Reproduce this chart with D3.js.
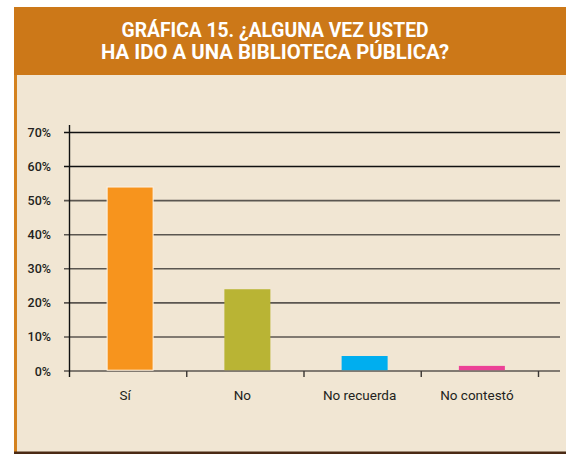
<!DOCTYPE html>
<html>
<head>
<meta charset="utf-8">
<script src="https://cdn.jsdelivr.net/npm/d3@7/dist/d3.min.js"></script>
<style>
  html, body { margin: 0; padding: 0; background: #ffffff; }
  svg { display: block; }
</style>
</head>
<body>
<div id="chart"></div>
<script>
// chart values
var categories = ["Sí", "No", "No recuerda", "No contestó"];
var values = [54, 24, 4.4, 1.5];
var barColours = ["#f7941d", "#b9b434", "#00aeef", "#ec4196"];
var yTicks = [0, 10, 20, 30, 40, 50, 60, 70];
var titleLines = ["GRÁFICA 15. ¿ALGUNA VEZ USTED", "HA IDO A UNA BIBLIOTECA PÚBLICA?"];
var titleWidths = [307, 348];

var svgWidth = 566, svgHeight = 454;
var margin = {top: 132.5, right: 3, bottom: 83, left: 69.5};
var width = svgWidth - margin.left - margin.right;
var height = svgHeight - margin.top - margin.bottom;

var svg = d3.select("#chart").append("svg")
    .attr("width", svgWidth)
    .attr("height", svgHeight);

// panel background + borders
svg.append("rect")
    .attr("x", 14).attr("y", 75)
    .attr("width", svgWidth - 14).attr("height", 377)
    .attr("fill", "#f1e6d3");
svg.append("rect")
    .attr("x", 14).attr("y", 75)
    .attr("width", 3).attr("height", 377)
    .attr("fill", "#d4821f");
svg.append("rect")
    .attr("x", 14).attr("y", 451.5)
    .attr("width", svgWidth - 14).attr("height", 2.5)
    .attr("fill", "#4a2a14");

// header band
svg.append("rect")
    .attr("x", 14).attr("y", 7)
    .attr("width", svgWidth - 14).attr("height", 68)
    .attr("fill", "#cc7818");

// title lines squeezed to the measured widths for a condensed look
svg.selectAll(".title")
    .data(titleLines)
    .enter().append("text")
    .attr("class", "title")
    .attr("x", (d, i) => 275 - titleWidths[i] / 2)
    .attr("y", (d, i) => 36.8 + i * 22.6)
    .attr("textLength", (d, i) => titleWidths[i])
    .attr("lengthAdjust", "spacingAndGlyphs")
    .attr("fill", "#ffffff")
    .style("font-family", "Roboto, 'Liberation Sans', sans-serif")
    .style("font-weight", "bold")
    .style("font-size", "20.5px")
    .text(d => d);

var plotArea = svg.append("g")
    .attr("transform", "translate(" + margin.left + "," + margin.top + ")")
    .attr("class", "plotArea");

var xscale = d3.scaleBand()
    .domain(categories)
    .range([0, width - 24.5]);

var yscale = d3.scaleLinear()
    .domain([0, 70])
    .range([height, 0]);

// gridlines
plotArea.selectAll(".grid")
    .data(yTicks)
    .enter().append("line")
    .attr("class", "grid")
    .attr("x1", -5.5)
    .attr("x2", width - 3)
    .attr("y1", d => yscale(d))
    .attr("y2", d => yscale(d))
    .style("stroke", d => d >= 60 ? "#111111" : "#5b5650")
    .style("stroke-width", 1.6);

// y axis line
plotArea.append("line")
    .attr("x1", 0).attr("x2", 0)
    .attr("y1", -7.5).attr("y2", yscale(0) + 6)
    .style("stroke", "#111111")
    .style("stroke-width", 1.4);

// y tick labels
plotArea.selectAll(".ylab")
    .data(yTicks)
    .enter().append("text")
    .attr("class", "ylab")
    .attr("x", -18.5)
    .attr("y", d => yscale(d) + 4.5)
    .attr("text-anchor", "end")
    .attr("fill", "#231f20")
    .style("font-family", "Roboto, sans-serif")
    .style("font-weight", 500)
    .style("font-size", "12.5px")
    .text(d => d + "%");

// x ticks at band edges
var edges = categories.map(c => xscale(c) + xscale.bandwidth());
plotArea.selectAll(".xtick")
    .data(edges)
    .enter().append("line")
    .attr("class", "xtick")
    .attr("x1", d => d).attr("x2", d => d)
    .attr("y1", yscale(0)).attr("y2", yscale(0) + 6)
    .style("stroke", "#3a3633")
    .style("stroke-width", 1.4);

// bars
var barWidth = 46;
plotArea.selectAll(".bar")
    .data(values)
    .enter().append("rect")
    .attr("class", "bar")
    .attr("x", (d, i) => xscale(categories[i]) + xscale.bandwidth() / 2 - barWidth / 2 + 2)
    .attr("y", d => yscale(d))
    .attr("width", barWidth)
    .attr("height", d => yscale(0) - yscale(d) - 0.8)
    .attr("fill", (d, i) => barColours[i])
    .style("stroke", (d, i) => i == 0 ? "#fdf3e6" : "none")
    .style("stroke-width", 1);

// category labels
plotArea.selectAll(".xlab")
    .data(categories)
    .enter().append("text")
    .attr("class", "xlab")
    .attr("x", d => xscale(d) + xscale.bandwidth() / 2 - 3)
    .attr("y", yscale(0) + 29)
    .attr("text-anchor", "middle")
    .attr("fill", "#231f20")
    .style("font-family", "Roboto, sans-serif")
    .style("font-size", "13.5px")
    .text(d => d);
</script>
</body>
</html>
